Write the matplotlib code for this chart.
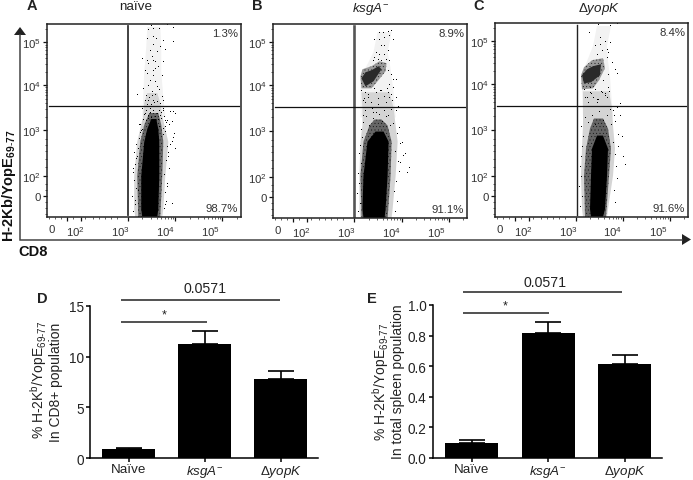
import matplotlib
matplotlib.use("Agg")
import matplotlib.pyplot as plt
import numpy as np

plt.rcParams['font.family'] = ['Liberation Sans', 'DejaVu Sans']
plt.rcParams['mathtext.fontset'] = 'custom'
plt.rcParams['mathtext.rm'] = 'Liberation Sans'
plt.rcParams['mathtext.it'] = 'Liberation Sans:italic'
plt.rcParams['mathtext.bf'] = 'Liberation Sans:bold'
plt.rcParams['mathtext.default'] = 'regular'
plt.rcParams['hatch.linewidth'] = 0.2

# ---- flow cytometry panels, in display channels of the biexponential axes ----
x_tick_channels = [20, 34, 81, 128, 175]
y_tick_channels = [21, 41, 87, 132, 175]
tick_labels = ['0', '$10^2$', '$10^3$', '$10^4$', '$10^5$']
x_label_shift = [-15, -6, -8, -10, -12]
panel_titles = ['naïve', r'$\mathit{ksgA}^{-}$', r'Δ$\mathit{yopK}$']
upper_percent = ['1.3%', '8.9%', '8.4%']
lower_percent = ['98.7%', '91.1%', '91.6%']
gate_x = [81, 81, 82]
gate_y = [111, 110, 110]

# dense population outlines: level, left edge, right edge
core_a_levels = [0, 8, 41, 75, 88, 98]
core_a_left = [95, 94, 94, 97, 100, 104]
core_a_right = [110, 111, 112, 112, 111, 109]
mid_a_levels = [0, 41, 75, 92, 104]
mid_a_left = [91, 90, 93, 97, 102]
mid_a_right = [113, 115, 116, 114, 111]
env_a_levels = [0, 8, 41, 75, 88, 101, 114, 124]
env_a_left = [88, 87, 87, 90, 93, 96, 97, 100]
env_a_right = [115, 116, 118, 121, 118, 115, 113, 110]
haze_a_levels = [100, 120, 145, 170, 190]
haze_a_left = [95, 96, 97, 99, 100]
haze_a_right = [118, 116, 114, 114, 113]

core_b_levels = [0, 9, 42, 76, 86]
core_b_left = [90, 89, 90, 94, 102]
core_b_right = [111, 112, 114, 115, 110]
mid_b_levels = [0, 42, 76, 92, 98]
mid_b_left = [88, 87, 90, 96, 101]
mid_b_right = [114, 117, 118, 114, 108]
env_b_levels = [0, 9, 42, 76, 92, 109, 125]
env_b_left = [87, 86, 86, 87, 89, 89, 88]
env_b_right = [118, 119, 122, 124, 122, 120, 116]
haze_b_levels = [100, 125, 140, 155, 165, 185]
haze_b_left = [87, 87, 87, 95, 100, 104]
haze_b_right = [122, 120, 118, 116, 114, 118]
blob_b_x = [87, 89, 98, 106, 113, 112, 104, 98, 88]
blob_b_y = [141, 148, 151, 156, 154, 146, 136, 129, 129]
blob_core_b_x = [88, 92, 98, 105, 108, 100, 92]
blob_core_b_y = [139, 145, 147, 151, 148, 136, 131]

core_c_levels = [0, 8, 41, 68, 81]
core_c_left = [96, 95, 96, 97, 102]
core_c_right = [108, 110, 112, 113, 108]
mid_c_levels = [0, 41, 68, 88, 98]
mid_c_left = [90, 89, 91, 95, 99]
mid_c_right = [111, 114, 116, 113, 108]
env_c_levels = [0, 8, 41, 68, 91, 108, 125]
env_c_left = [88, 87, 86, 87, 88, 88, 88]
env_c_right = [112, 113, 118, 120, 118, 117, 114]
haze_c_levels = [100, 125, 140, 155, 170, 190]
haze_c_left = [88, 87, 86, 92, 98, 102]
haze_c_right = [118, 116, 115, 113, 112, 116]
blob_c_x = [86, 89, 97, 108, 110, 104, 98, 87]
blob_c_y = [141, 149, 156, 158, 148, 136, 128, 127]
blob_core_c_x = [87, 92, 98, 106, 105, 96, 89]
blob_core_c_y = [141, 147, 150, 152, 141, 134, 133]

# individually read events outside the dense populations
events_a_x = [104,101,106,112,120,126,100,106,109,116,126,106,113,103,110,118,105,106,100,95,101,108,116,98,106,108,111,100,106,115,103,108,110,96,101,112,90,99,105,108,115,116,98,101,106,110,113,95,103,106,110,101,123,126,98,113,116,104,107,102,105,107,100,103,108,104,111,99,118,122,127,125,118,120,128,112,92,95,123,128,125,126,121,125,
              86,88,85,89,87,86,88,90,87,91,89,92,94,93,96,117,119,118,120,117,122,119,121,123,116,118,120,117,119,114,116,88,91,86,89,93,118,120,97,99,101,116,114,112]
events_a_y = [191,187,188,188,192,189,178,180,178,176,175,172,170,166,165,167,160,156,156,158,153,155,155,146,146,148,150,143,141,141,136,135,130,128,131,127,122,121,121,122,120,116,116,116,116,115,113,108,108,106,103,101,105,105,103,101,106,112,110,119,125,114,112,104,100,99,97,96,96,92,83,75,85,70,68,90,92,87,105,103,95,79,60,13,
              5,12,20,28,36,44,52,60,64,68,72,78,86,92,97,8,15,24,33,42,48,56,64,72,82,90,96,100,94,104,108,16,26,48,58,84,12,30,102,106,98,88,98,106]
events_b_x = [105,109,114,117,100,105,110,115,119,107,110,114,102,105,110,100,104,107,112,115,99,114,117,119,122,115,119,122,115,92,95,102,107,90,97,104,112,92,99,105,110,117,122,90,114,125,128,131,126,129,133,135,124,
              85,87,84,86,85,88,86,87,89,88,121,123,120,122,125,124,121,126,123,119,90,93,96,99,102,108,112,116,91,95,104,110,114,118,88,100,106,113,117,92,98]
events_b_y = [184,184,185,186,177,177,179,181,177,171,171,166,164,162,162,159,157,156,157,156,156,146,142,137,137,132,129,119,119,124,119,124,126,116,114,112,114,106,104,102,106,107,106,101,101,90,75,64,55,62,45,50,110,
              6,14,24,34,44,54,64,72,80,88,6,16,26,36,46,56,66,74,84,94,95,100,92,98,104,96,100,92,118,122,118,120,124,116,126,128,126,128,122,114,108]
events_c_x = [103,115,122,94,105,110,115,100,105,112,107,113,102,112,117,120,122,113,108,113,107,95,98,103,90,112,102,93,122,125,120,127,123,128,118,125,130,
              85,87,84,86,85,86,87,88,86,120,119,122,121,120,118,123,116,119,115,90,93,97,100,104,108,112,92,96,102,106,110,89,95,100,110,114]
events_c_y = [191,190,192,183,178,174,173,170,171,166,165,163,161,158,153,146,142,141,135,128,123,123,118,116,118,118,113,113,108,100,95,80,70,60,105,112,52,
              10,20,30,40,50,60,70,80,90,14,26,38,50,62,74,82,92,100,106,98,94,100,92,104,96,100,118,122,116,124,120,126,128,126,122,124]

# ---- bar panels ----
bar_groups = ['Naïve', r'$\mathit{ksgA}^{-}$', r'Δ$\mathit{yopK}$']
cd8_means = [0.95, 11.2, 7.8]
cd8_errors = [0.1, 1.3, 0.8]
cd8_ticks = [0, 5, 10, 15]
spleen_means = [0.10, 0.815, 0.615]
spleen_errors = [0.015, 0.075, 0.06]
spleen_ticks = [0.0, 0.2, 0.4, 0.6, 0.8, 1.0]

W, H = 693, 481
fig = plt.figure(figsize=(W / 100, H / 100), dpi=100, facecolor='white')


def axes_px(left, top, right, bottom):
    return fig.add_axes([left / W, 1 - bottom / H, (right - left) / W, (bottom - top) / H])


def flow_panel(rect, i, clouds, blobs, ex, ey, gate_color, gate_lw):
    ax = axes_px(*rect)
    ax.set_xlim(0, 193)
    ax.set_ylim(0, 193)
    haze, env, mid, core = clouds
    ax.fill_betweenx(haze[0], haze[1], haze[2], facecolor='#f2f2f2', linewidth=0)
    ax.fill_betweenx(env[0], env[1], env[2], facecolor='#d4d4d4', linewidth=0)
    ax.fill_betweenx(mid[0], mid[1], mid[2], facecolor='#666666', edgecolor='black', hatch='.....', linewidth=0)
    ax.fill_betweenx(core[0], core[1], core[2], facecolor='black', linewidth=0)
    if blobs:
        ax.fill(blobs[0], blobs[1], facecolor='#999999', edgecolor='black', hatch='.....', linewidth=0)
        ax.fill(blobs[2], blobs[3], facecolor='#2a2a2a', linewidth=0)
    ax.plot(ex, ey, linestyle='none', marker=',', color='black')
    ax.axvline(gate_x[i], ymin=0.01, ymax=0.99, color=gate_color, lw=gate_lw)
    ax.axhline(gate_y[i], xmin=0.01, xmax=0.99, color='#111111', lw=0.9)
    minor_x = [t + np.log10(k) * 47 for t in x_tick_channels[2:] for k in range(2, 10) if t + np.log10(k) * 47 < 193]
    minor_x += [2, 8, 14, 26, 38, 46, 52, 58, 64, 70]
    minor_y = [t + np.log10(k) * 44.7 for t in y_tick_channels[2:] for k in range(2, 10) if t + np.log10(k) * 44.7 < 193]
    minor_y += [3, 9, 15, 27, 33, 50, 58, 66, 72, 78]
    ax.set_xticks(x_tick_channels, labels=[''] * 5)
    ax.set_yticks(y_tick_channels, labels=tick_labels)
    ax.set_xticks(minor_x, minor=True)
    ax.set_yticks(minor_y, minor=True)
    ax.tick_params(which='major', length=3.0, width=0.9, color='#111111', labelsize=8.2, labelcolor='#333333', pad=1.2)
    ax.tick_params(which='minor', length=1.5, width=0.5, color='#222222')
    for s in ax.spines.values():
        s.set_linewidth(1.1)
        s.set_color('#222222')
    for t, lab, dx in zip(x_tick_channels, tick_labels, x_label_shift):
        ax.annotate(lab, xy=(t, 0), xycoords=('data', 'axes fraction'), xytext=(dx, -7),
                    textcoords='offset pixels', ha='center', va='top', fontsize=8.2, color='#333333')
    ax.text(0.985, 0.955, upper_percent[i], transform=ax.transAxes, ha='right', va='center', fontsize=8.2, color='#333333')
    ax.text(0.985, 0.045, lower_percent[i], transform=ax.transAxes, ha='right', va='center', fontsize=8.2, color='#333333')
    return ax


flow_panel((47, 25, 240.5, 218), 0,
           ((haze_a_levels, haze_a_left, haze_a_right), (env_a_levels, env_a_left, env_a_right),
            (mid_a_levels, mid_a_left, mid_a_right), (core_a_levels, core_a_left, core_a_right)),
           None, events_a_x, events_a_y, '#333333', 1.3)
flow_panel((273, 25, 467, 219), 1,
           ((haze_b_levels, haze_b_left, haze_b_right), (env_b_levels, env_b_left, env_b_right),
            (mid_b_levels, mid_b_left, mid_b_right), (core_b_levels, core_b_left, core_b_right)),
           (blob_b_x, blob_b_y, blob_core_b_x, blob_core_b_y), events_b_x, events_b_y, '#555555', 1.9)
flow_panel((495, 24, 688, 218), 2,
           ((haze_c_levels, haze_c_left, haze_c_right), (env_c_levels, env_c_left, env_c_right),
            (mid_c_levels, mid_c_left, mid_c_right), (core_c_levels, core_c_left, core_c_right)),
           (blob_c_x, blob_c_y, blob_core_c_x, blob_core_c_y), events_c_x, events_c_y, '#222222', 1.0)


def bar_panel(rect, means, errors, ticks, fmt):
    ax = axes_px(*rect)
    pos = np.arange(len(means))
    ax.bar(pos, means, width=0.69, color='black')
    ax.errorbar(pos, means, yerr=[np.zeros(3), errors], fmt='none', ecolor='black', elinewidth=1.2, capsize=9.4, capthick=1.2)
    ax.set_xlim(-0.507, 2.49)
    ax.set_ylim(0, ticks[-1])
    ax.set_xticks(pos, labels=bar_groups)
    ax.set_yticks(ticks, labels=[fmt.format(t) for t in ticks])
    ax.tick_params(axis='both', length=3, width=1.1, color='black', labelcolor='#222222', labelsize=9.8)
    ax.tick_params(axis='x', pad=0.6, labelsize=9.6)
    ax.tick_params(axis='y', pad=1.5)
    for s in ('top', 'right'):
        ax.spines[s].set_visible(False)
    for s in ('left', 'bottom'):
        ax.spines[s].set_linewidth(1.1)
    return ax


bar_panel((90, 306.7, 318, 459.3), cd8_means, cd8_errors, cd8_ticks, '{:d}')
bar_panel((433, 306, 662, 459), spleen_means, spleen_errors, spleen_ticks, '{:.1f}')

# ---- overlay: arrows, panel letters, titles, significance brackets ----
ov = fig.add_axes([0, 0, 1, 1], facecolor='none')
ov.set_xlim(0, W)
ov.set_ylim(H, 0)
ov.axis('off')
axis_col = '#444444'
ov.plot([20, 20, 682], [36, 240.5, 240.5], color=axis_col, lw=1.1, solid_joinstyle='miter')
ov.fill([14, 20, 26], [36, 28, 36], color='#222222', lw=0)
ov.fill([682, 691, 682], [235, 240.5, 246], color='#222222', lw=0)

for s, x, y in [('A', 32, 6.5), ('B', 257, 6.5), ('C', 479, 6.5), ('D', 42, 299.5), ('E', 372, 299.5)]:
    ov.text(x, y, s, fontsize=10.5, fontweight='bold', color='#222222', ha='center', va='center')
for t, x, y in zip(panel_titles, [136, 371, 599], [7.5, 9, 9]):
    ov.text(x, y, t, fontsize=9.6, color='#222222', ha='center', va='center')

ov.text(9, 186, r'H-2Kb/YopE$_{\mathbf{69\text{-}77}}$', rotation=90, fontsize=10.5, fontweight='bold', color='#111111', ha='center', va='center')
ov.text(33, 252, 'CD8', fontsize=10.5, fontweight='bold', color='#111111', ha='center', va='center')

lab1 = r'% H-2K$^{b}$/YopE$_{\mathit{69\text{-}77}}$'
ov.text(39, 380, lab1, rotation=90, fontsize=10, color='#222222', ha='center', va='center')
ov.text(56, 382, 'In CD8+ population', rotation=90, fontsize=10, color='#222222', ha='center', va='center')
ov.text(381, 382, lab1, rotation=90, fontsize=10, color='#222222', ha='center', va='center')
ov.text(398, 382, 'In total spleen population', rotation=90, fontsize=10, color='#222222', ha='center', va='center')

for x0, x1, y in [(121, 280, 300.7), (121, 207, 322.7), (463, 622, 292.7), (463, 549, 314.3)]:
    ov.plot([x0, x1], [y, y], color='#222222', lw=1.1, solid_capstyle='butt')
for x, y in [(205, 289), (545, 283)]:
    ov.text(x, y, '0.0571', fontsize=10.2, color='#222222', ha='center', va='center')
for x, y in [(164, 315), (505, 306)]:
    ov.text(x, y, '*', fontsize=9, color='#222222', ha='center', va='center')

fig.savefig('out.png', dpi=100)
